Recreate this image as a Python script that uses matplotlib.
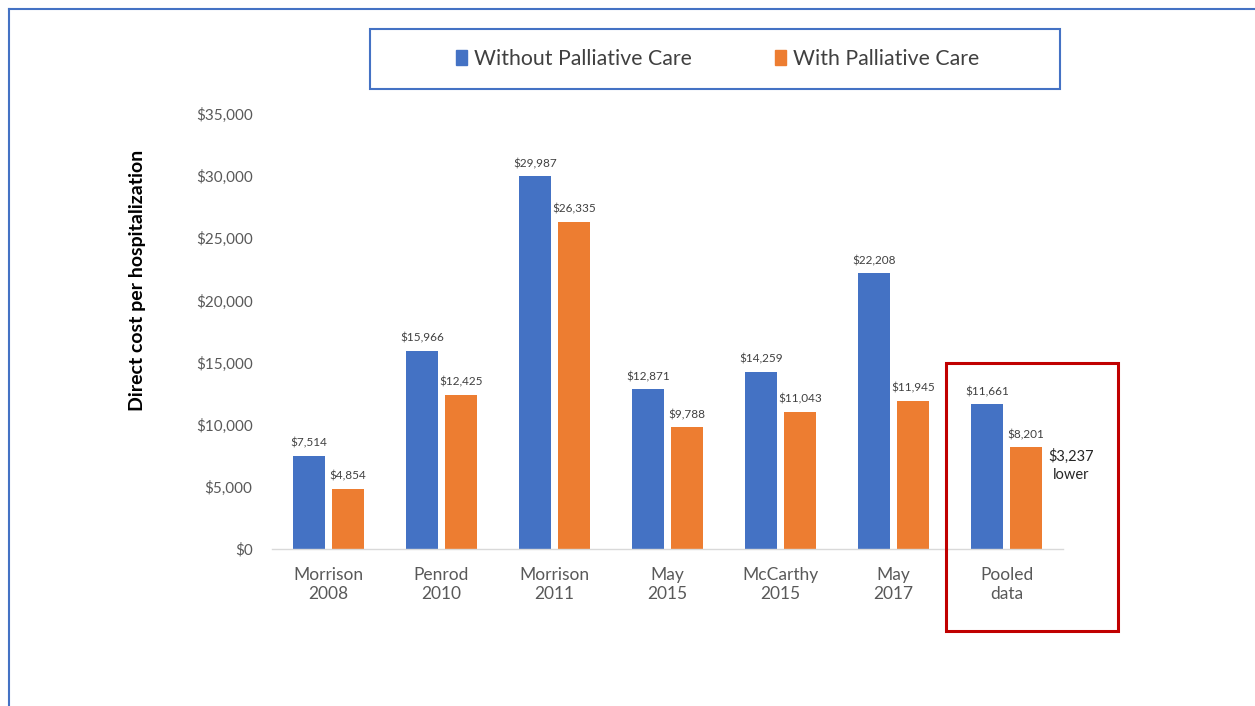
import matplotlib.pyplot as plt
import numpy as np
from matplotlib.patches import Rectangle, Patch
from matplotlib.lines import Line2D

# values
studies = ['Morrison\n2008', 'Penrod\n2010', 'Morrison\n2011', 'May\n2015',
           'McCarthy\n2015', 'May\n2017', 'Pooled\ndata']
without_pc = [7514, 15966, 29987, 12871, 14259, 22208, 11661]
with_pc = [4854, 12425, 26335, 9788, 11043, 11945, 8201]
y_ticks = [0, 5000, 10000, 15000, 20000, 25000, 30000, 35000]
pooled_note = '$3,237\nlower'

BLUE = '#4472C4'
ORANGE = '#ED7D31'
W, H = 1255, 706

plt.rcParams['font.family'] = ['Lato', 'DejaVu Sans']

fig = plt.figure(figsize=(W / 100, H / 100), dpi=100)

def fx(px):
    return px / W

def fy(py):
    return 1 - py / H

ax = fig.add_axes([fx(272), fy(549), fx(1063) - fx(272), fy(114) - fy(549)])

x = np.arange(len(studies))
bw = 0.283
off = 0.173
b1 = ax.bar(x - off, without_pc, bw, color=BLUE, label='Without Palliative Care')
b2 = ax.bar(x + off, with_pc, bw, color=ORANGE, label='With Palliative Care')

ax.bar_label(b1, labels=[f'${v:,}' for v in without_pc], padding=5,
             fontsize=8.5, color='#404040')
ax.bar_label(b2, labels=[f'${v:,}' for v in with_pc], padding=5,
             fontsize=8.5, color='#404040')

ax.set_xlim(-0.5, len(studies) - 0.5)
ax.set_ylim(0, 35000)
ax.set_yticks(y_ticks)
ax.set_yticklabels([f'${v:,}' for v in y_ticks])
ax.set_xticks(x)
ax.set_xticklabels(studies, linespacing=1.25)
ax.tick_params(axis='y', length=0, pad=14, labelsize=11, labelcolor='#595959')
ax.tick_params(axis='x', length=0, pad=13, labelsize=12.5, labelcolor='#595959')

for s in ['top', 'right', 'left']:
    ax.spines[s].set_visible(False)
ax.spines['bottom'].set_color('#d9d9d9')
ax.spines['bottom'].set_linewidth(1)

# note beside the pooled bars
ax.text(6.575, 6700, pooled_note, ha='center', va='center', fontsize=10.5,
        color='#262626', clip_on=False, linespacing=1.35)

fig.text(fx(138), fy(280), 'Direct cost per hospitalization', rotation=90,
         ha='center', va='center', fontsize=14, fontweight='bold', color='black')

# red highlight box around pooled data
fig.patches.append(Rectangle((fx(946), fy(631)), fx(1118) - fx(946), fy(363) - fy(631),
                             transform=fig.transFigure, fill=False,
                             edgecolor='#C00000', linewidth=2.2))

# legend box
fig.patches.append(Rectangle((fx(370), fy(89)), fx(1060) - fx(370), fy(29) - fy(89),
                             transform=fig.transFigure, fill=False,
                             edgecolor=BLUE, linewidth=1.5))
handles = [Patch(color=BLUE), Patch(color=ORANGE)]
fig.legend(handles, ['Without Palliative Care', 'With Palliative Care'],
           loc='center', bbox_to_anchor=(fx(718), fy(59)), ncol=2, frameon=False,
           fontsize=15.3, labelcolor='#404040', handlelength=0.5, handleheight=0.7,
           handletextpad=0.35, columnspacing=3.9)

# outer border (left and top edges)
fig.add_artist(Line2D([fx(9), fx(9)], [fy(9), 0], transform=fig.transFigure,
                      color=BLUE, linewidth=1.5))
fig.add_artist(Line2D([fx(9), 1], [fy(9), fy(9)], transform=fig.transFigure,
                      color=BLUE, linewidth=1.5))

fig.savefig('out.png', dpi=100)
